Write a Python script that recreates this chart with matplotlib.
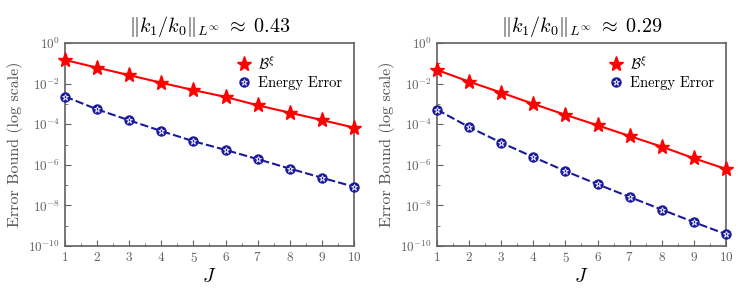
import matplotlib
matplotlib.use("Agg")
import matplotlib.pyplot as plt
from matplotlib.lines import Line2D
from matplotlib.ticker import FixedLocator, LogFormatterSciNotation, NullFormatter

plt.rcParams['font.family'] = 'serif'
plt.rcParams['font.serif'] = ['cmr10']
plt.rcParams['mathtext.fontset'] = 'cm'
plt.rcParams['axes.formatter.use_mathtext'] = True

J = [1, 2, 3, 4, 5, 6, 7, 8, 9, 10]

titles = [r'$\|k_1/k_0\|_{L^\infty} \;\approx\; 0.43$', r'$\|k_1/k_0\|_{L^\infty} \;\approx\; 0.29$']
# left panel
bound_left = [1.45e-1, 6.1e-2, 2.6e-2, 1.1e-2, 4.8e-3, 2.2e-3, 8.5e-4, 3.7e-4, 1.6e-4, 6.8e-5]
energy_left = [2.3e-3, 5.4e-4, 1.55e-4, 4.6e-5, 1.45e-5, 5.4e-6, 1.9e-6, 6.5e-7, 2.3e-7, 8.3e-8]
# right panel
bound_right = [4.7e-2, 1.25e-2, 3.6e-3, 1.0e-3, 2.9e-4, 8.8e-5, 2.6e-5, 7.8e-6, 2.1e-6, 6.2e-7]
energy_right = [5.2e-4, 7.2e-5, 1.23e-5, 2.4e-6, 4.9e-7, 1.1e-7, 2.6e-8, 6.2e-9, 1.5e-9, 3.8e-10]

red = '#ff0000'
blue = '#1a1a9c'
gray = '#606060'

fig = plt.figure(figsize=(7.47, 2.93), dpi=100)
positions = [[65 / 747, 47 / 293, 289 / 747, 203 / 293],
             [437 / 747, 47 / 293, 289 / 747, 203 / 293]]
datasets = [(bound_left, energy_left), (bound_right, energy_right)]

for pos, title, (bnd, err) in zip(positions, titles, datasets):
    ax = fig.add_axes(pos)
    ax.plot(J, bnd, '-', color=red, lw=1.5, marker='*', ms=11, mec=red, mfc=red, clip_on=False, zorder=3)
    ax.plot(J, err, '--', color=blue, lw=1.5, dashes=(4, 1.5), marker='o', ms=6.5, mec=blue, mfc=blue,
            clip_on=False, zorder=3)
    ax.plot(J, err, 'None', marker='*', ms=4.5, mec='white', mfc='none', mew=0.6, clip_on=False, zorder=4)
    ax.set_yscale('log')
    ax.set_xlim(1, 10)
    ax.set_ylim(1e-10, 1e0)
    ax.set_xticks(J)
    ax.xaxis.set_minor_locator(FixedLocator([x + 0.5 for x in J[:-1]]))
    ax.yaxis.set_major_locator(FixedLocator([10.0 ** e for e in range(-10, 1, 2)]))
    ax.yaxis.set_minor_locator(FixedLocator([10.0 ** e for e in range(-9, 0, 2)]))
    ax.yaxis.set_major_formatter(LogFormatterSciNotation())
    ax.yaxis.set_minor_formatter(NullFormatter())
    ax.tick_params(which='both', direction='in', colors=gray, labelcolor=gray, labelsize=9.5,
                   top=False, right=False)
    ax.tick_params(which='major', length=4)
    ax.tick_params(which='minor', length=2.5)
    for s in ax.spines.values():
        s.set_color(gray)
        s.set_linewidth(1.2)
    ax.set_title(title, fontsize=14.5, pad=8)
    ax.set_xlabel(r'$J$', fontsize=14, labelpad=2)
    ax.set_ylabel('Error Bound (log scale)', fontsize=11.5, color='#505050')
    handles = [
        Line2D([], [], ls='None', marker='*', ms=11, color=red),
        (Line2D([], [], ls='None', marker='o', ms=6.5, color=blue),
         Line2D([], [], ls='None', marker='*', ms=4.5, mec='white', mfc='none', mew=0.6)),
    ]
    ax.legend(handles, [r'$\mathcal{B}^\xi$', 'Energy Error'], loc='upper right', frameon=False,
              fontsize=10.5, handlelength=0.8, handletextpad=0.6, labelspacing=0.25,
              borderaxespad=0.4)

fig.savefig('out.png', dpi=100)
